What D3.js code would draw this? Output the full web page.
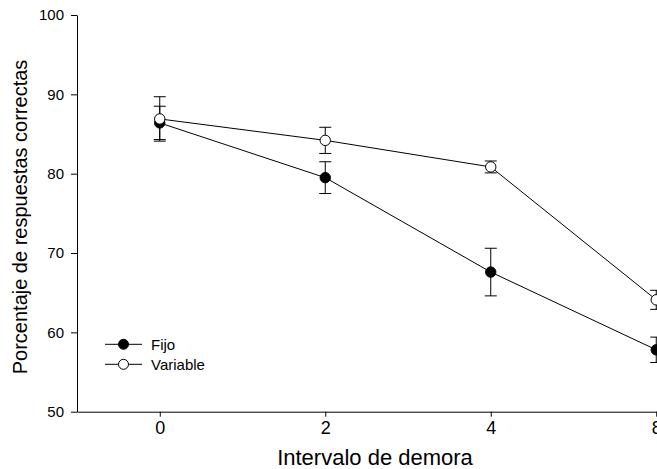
<!DOCTYPE html>
<html>
    <head>
        <title>Porcentaje de respuestas correctas</title>
        <script src="https://d3js.org/d3.v7.min.js"></script>
        <style>
            body { margin: 0; background: #fff; }
            text { font-family: "Liberation Sans", Arial, sans-serif; }
        </style>
    </head>
    <body>
        <div id="chart"></div>
        <script>
            //  data
            const delays = ["0", "2", "4", "8"];
            const fijo = [86.4, 79.5, 67.6, 57.8];
            const fijoErr = [2.1, 2.0, 3.0, 1.6];
            const variable = [86.9, 84.2, 80.85, 64.1];
            const variableErr = [2.8, 1.65, 0.75, 1.2];
            const yTicks = [50, 60, 70, 80, 90, 100];

            //  chart dimensions
            const width = 657;
            const height = 469;

            //  categories sit half a step in from the left axis, last one runs off the edge
            const x = d3.scaleLinear()
                .domain([-0.5, delays.length - 0.5])
                .range([77, 739]);

            const y = d3.scaleLinear()
                .domain([50, 100])
                .range([411.7, 15]);

            const svg = d3.select("#chart")
                .append("svg")
                    .attr("width", width)
                    .attr("height", height);

            //  axes
            const yAxis = svg.append("g")
                .attr("transform", `translate(${x(-0.5)},0)`)
                .call(d3.axisLeft(y).tickValues(yTicks).tickSize(6).tickSizeOuter(0).tickPadding(7));
            yAxis.selectAll("text").attr("font-size", 15).attr("font-family", null).attr("fill", "#000");

            const xAxis = svg.append("g")
                .attr("transform", `translate(0,${y(50)})`)
                .call(d3.axisBottom(x).tickValues(d3.range(delays.length)).tickFormat(i => delays[i]).tickSize(5).tickSizeOuter(0).tickPadding(5));
            xAxis.selectAll("text").attr("font-size", 18).attr("font-family", null).attr("fill", "#000");

            [yAxis, xAxis].forEach(g => {
                g.attr("font-family", null);
                g.selectAll("path, line").attr("stroke", "#000");
            });

            //  axis titles
            svg.append("text")
                .attr("x", 375)
                .attr("y", 465)
                .attr("text-anchor", "middle")
                .attr("font-size", 22)
                .text("Intervalo de demora");

            svg.append("text")
                .attr("transform", "translate(27,217) rotate(-90)")
                .attr("text-anchor", "middle")
                .attr("font-size", 20)
                .text("Porcentaje de respuestas correctas");

            //  one group per series: line, error bars, then markers
            const series = [
                { name: "Fijo", values: fijo, err: fijoErr, fill: "#000" },
                { name: "Variable", values: variable, err: variableErr, fill: "#fff" }
            ];

            const line = d3.line()
                .x((d, i) => x(i))
                .y(d => y(d));

            series.forEach(s => {
                const g = svg.append("g");

                g.append("path")
                    .datum(s.values)
                    .attr("fill", "none")
                    .attr("stroke", "#000")
                    .attr("stroke-width", 1)
                    .attr("d", line);

                const bars = g.selectAll("g.err")
                    .data(s.values.map((v, i) => ({ i, v, e: s.err[i] })))
                    .join("g")
                        .attr("class", "err")
                        .attr("stroke", "#000")
                        .attr("stroke-width", 1);

                bars.append("line")
                    .attr("x1", d => x(d.i)).attr("x2", d => x(d.i))
                    .attr("y1", d => y(d.v - d.e)).attr("y2", d => y(d.v + d.e));
                bars.append("line")
                    .attr("x1", d => x(d.i) - 6).attr("x2", d => x(d.i) + 6)
                    .attr("y1", d => y(d.v + d.e)).attr("y2", d => y(d.v + d.e));
                bars.append("line")
                    .attr("x1", d => x(d.i) - 6).attr("x2", d => x(d.i) + 6)
                    .attr("y1", d => y(d.v - d.e)).attr("y2", d => y(d.v - d.e));

                g.selectAll("circle")
                    .data(s.values)
                    .join("circle")
                        .attr("cx", (d, i) => x(i))
                        .attr("cy", d => y(d))
                        .attr("r", 5.2)
                        .attr("fill", s.fill)
                        .attr("stroke", "#000")
                        .attr("stroke-width", 1);
            });

            //  legend
            const legend = svg.append("g")
                .selectAll("g")
                .data(series)
                .join("g")
                    .attr("transform", (d, i) => `translate(105,${344.3 + i * 20})`);

            legend.append("line")
                .attr("x1", 0).attr("x2", 37)
                .attr("stroke", "#000");
            legend.append("circle")
                .attr("cx", 18.5)
                .attr("r", 5)
                .attr("fill", d => d.fill)
                .attr("stroke", "#000");
            legend.append("text")
                .attr("x", 46)
                .attr("dy", "0.35em")
                .attr("font-size", 15)
                .text(d => d.name);
        </script>
    </body>
</html>
